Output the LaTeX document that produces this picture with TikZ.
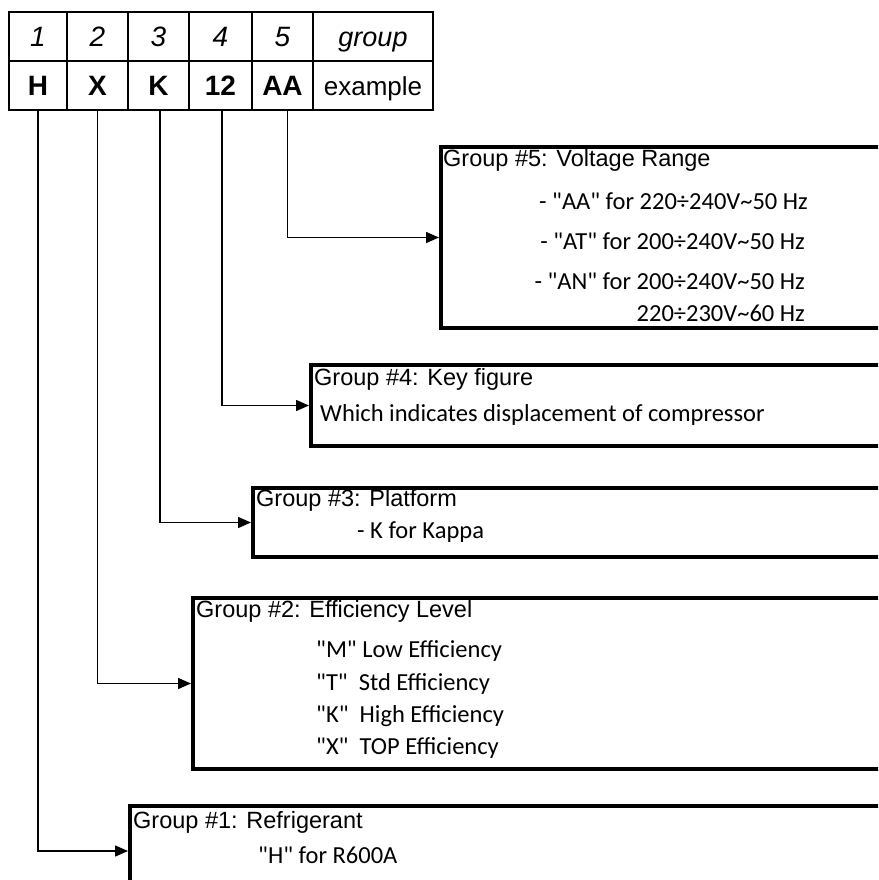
\documentclass[tikz,border=0pt]{standalone}
\usepackage{fontspec}
\setmainfont{Liberation Sans}
\newfontfamily\calibfont{Carlito}
\usetikzlibrary{arrows.meta}

\tikzset{
	cell/.style={draw, line width=1.6pt, minimum height=49pt, inner sep=0pt, text height=20pt, text depth=0pt},
	grp/.style={draw, line width=4pt, anchor=north west, inner sep=0pt, minimum width=800pt},
	title/.style={anchor=west, inner sep=0pt, font=\fontsize{23.5}{26}\selectfont},
	info/.style={inner sep=0pt, font=\calibfont\fontsize{24.5}{26}\selectfont},
	link/.style={line width=1.5pt, -{Triangle[length=13pt,width=11pt]}},
}

\begin{document}
\begin{tikzpicture}[x=1pt, y=-1pt]
					\path[use as bounding box, clip] (0,0) rectangle (878,880);
					
					\foreach \n/\x/\w/\code in {1/38/58/H, 2/97.5/61/X, 3/158.5/61/K, 4/220.5/63/12, 5/282.5/61/AA} {
						\node[cell, minimum width=\w pt, font=\itshape\fontsize{28}{30}\selectfont] (n\n) at (\x, 36.5) {\n};
						\node[cell, minimum width=\w pt, font=\bfseries\fontsize{28}{30}\selectfont] (c\n) at (\x, 85.5) {\code};
					}
					\node[cell, minimum width=120pt, font=\itshape\fontsize{27}{28}\selectfont] (ngroup) at (373, 36.5) {group};
					\node[cell, minimum width=120pt, font=\fontsize{26}{28}\selectfont] (cgroup) at (373, 85.5) {example};
					
					\node[grp, minimum height=181pt] (b5) at (439, 145) {};
					\node[title] (t5) at (443, 160) {Group \#5: Voltage Range};
					\node[info, anchor=east] (l5a) at (808, 201) {- "AA" for 220÷240V\textasciitilde 50 Hz};
					\node[info, anchor=east] (l5b) at (805, 241) {- "AT" for 200÷240V\textasciitilde 50 Hz};
					\node[info, anchor=east] (l5c) at (805, 281) {- "AN" for 200÷240V\textasciitilde 50 Hz};
					\node[info, anchor=east] (l5d) at (805, 313) {220÷230V\textasciitilde 60 Hz};
					\draw[link] ([xshift=5pt]c5.south) |- (b5.west);
					
					\node[grp, minimum height=81pt] (b4) at (309, 363) {};
					\node[title] (t4) at (314, 379) {Group \#4: Key figure};
					\node[info, anchor=west] (l4) at (320, 415) {Which indicates displacement of compressor};
					\draw[link] ([xshift=1.5pt]c4.south) |- (b4.west);
					
					\node[grp, minimum height=69pt] (b3) at (251, 486) {};
					\node[title] (t3) at (256, 500) {Group \#3: Platform};
					\node[info, anchor=west] (l3) at (357, 532) {- K for Kappa};
					\draw[link] ([xshift=1.5pt]c3.south) |- (b3.west);
					
					\node[grp, minimum height=171pt] (b2) at (191, 596) {};
					\node[title] (t2) at (196, 611) {Group \#2: Efficiency Level};
					\node[info, anchor=west] (l2a) at (316, 651) {"M" Low Efficiency};
					\node[info, anchor=west] (l2b) at (316, 684) {"T"\ \ Std Efficiency};
					\node[info, anchor=west] (l2c) at (316, 716) {"K"\ \ High Efficiency};
					\node[info, anchor=west] (l2d) at (316, 748) {"X"\ \ TOP Efficiency};
					\draw[link] (c2.south) |- (b2.west);
					
					\node[grp, minimum height=90pt] (b1) at (128, 804) {};
					\node[title] (t1) at (133, 822) {Group \#1: Refrigerant};
					\node[info, anchor=west] (l1) at (258, 855) {"H" for R600A};
					\draw[link] (c1.south) |- (b1.west);
\end{tikzpicture}
\end{document}
